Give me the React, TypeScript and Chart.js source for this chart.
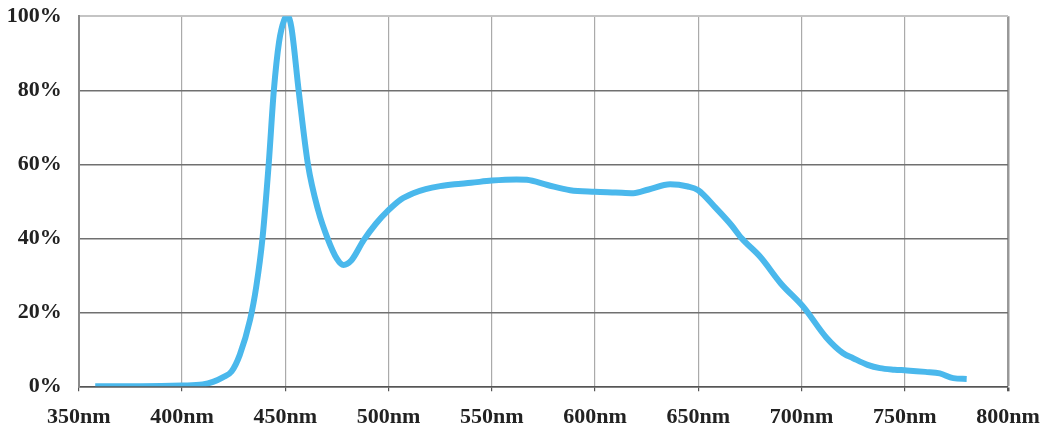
import React, { useEffect, useRef } from "react";
import { Chart, registerables } from "chart.js";

Chart.register(...registerables);

const wavelengths: number[] = [
  358, 380, 400, 410, 415, 420, 424, 428, 433, 436, 439, 442, 444.5, 447, 449.5, 451.2, 453, 456.5, 461, 466,
  470.5, 475, 478.2, 482, 488, 494, 500, 506, 512, 518, 525, 532, 540, 550, 562, 567, 577, 588, 600, 610,
  618.6, 626, 636.4, 645, 650, 658, 666, 671, 680, 690, 701, 712, 720, 725, 732, 738, 745, 751, 760, 767,
  773.5, 780,
];
const intensity: number[] = [
  0, 0, 0.2, 0.5, 1.2, 2.5, 4, 8.5, 18, 27, 40, 60, 80, 93, 99, 100, 97, 80, 60, 47.5,
  40, 34.5, 32.8, 34, 39.5, 44, 47.6, 50.5, 52.2, 53.3, 54.1, 54.6, 55, 55.6, 55.9, 55.8, 54.4, 53, 52.6, 52.4,
  52.2, 53.2, 54.6, 54, 53, 48.5, 43.6, 40, 35, 27.8, 21.4, 13.2, 9, 7.6, 5.8, 4.9, 4.5, 4.3, 3.9, 3.5,
  2.2, 2,
];
const xTicks: number[] = [350, 400, 450, 500, 550, 600, 650, 700, 750, 800];
const yTicks: number[] = [0, 20, 40, 60, 80, 100];

export default function App() {
  const ref = useRef<HTMLCanvasElement | null>(null);

  useEffect(() => {
    document.body.style.margin = "0";
    let chart: Chart | null = null;
    let cancelled = false;
    const make = () => {
      if (cancelled || !ref.current) return;
      const font = { family: "'Liberation Serif', 'Times New Roman', serif", weight: "bold" as const, size: 22 };
      chart = new Chart(ref.current, {
        type: "line",
        data: {
          datasets: [
            {
              data: wavelengths.map((w, i) => ({ x: w, y: intensity[i] })),
              borderColor: "#4ab8ec",
              borderWidth: 6,
              pointRadius: 0,
              fill: false,
              cubicInterpolationMode: "monotone",
            },
          ],
        },
        options: {
          animation: false,
          responsive: true,
          maintainAspectRatio: false,
          layout: { padding: { top: 16.3, right: 39, bottom: 0, left: 0 } },
          plugins: { legend: { display: false }, tooltip: { enabled: false } },
          scales: {
            x: {
              type: "linear",
              min: xTicks[0],
              max: xTicks[xTicks.length - 1],
              afterBuildTicks: (scale: any) => {
                scale.ticks = xTicks.map((v) => ({ value: v }));
              },
              afterFit: (scale: any) => {
                scale.height = 43.7;
                scale.paddingLeft = 0;
                scale.paddingRight = 0;
              },
              ticks: {
                font,
                color: "#222",
                padding: 13,
                maxRotation: 0,
                autoSkip: false,
                callback: (v: any) => `${v}nm`,
              },
              grid: {
                color: (ctx: any) => (ctx.tick && ctx.tick.value === 800 ? "#999" : "#aaaaaa"),
                lineWidth: (ctx: any) => (ctx.tick && ctx.tick.value === 800 ? 2.5 : 1.2),
                tickColor: "#555",
                tickLength: 5,
              },
              border: { color: "#555", width: 1.5 },
            },
            y: {
              min: 0,
              max: 100,
              afterBuildTicks: (scale: any) => {
                scale.ticks = yTicks.map((v) => ({ value: v }));
              },
              afterFit: (scale: any) => {
                scale.width = 78.7;
                scale.paddingTop = 0;
                scale.paddingBottom = 0;
              },
              ticks: {
                font,
                color: "#222",
                padding: 17,
                callback: (v: any) => `${v}%`,
              },
              grid: {
                drawTicks: false,
                color: (ctx: any) => (ctx.tick && ctx.tick.value === 100 ? "#c4c4c4" : "#707070"),
                lineWidth: (ctx: any) => (ctx.tick && ctx.tick.value === 100 ? 2 : 1.4),
              },
              border: { color: "#8a8a8a", width: 2 },
            },
          },
        },
      });
    };
    const fonts: any = (document as any).fonts;
    if (fonts && fonts.load) {
      fonts.load("bold 22px 'Liberation Serif'").then(make, make);
    } else {
      make();
    }
    return () => {
      cancelled = true;
      if (chart) chart.destroy();
    };
  }, []);

  return (
    <div style={{ width: 1047, height: 430, position: "relative" }}>
      <canvas ref={ref} />
    </div>
  );
}
